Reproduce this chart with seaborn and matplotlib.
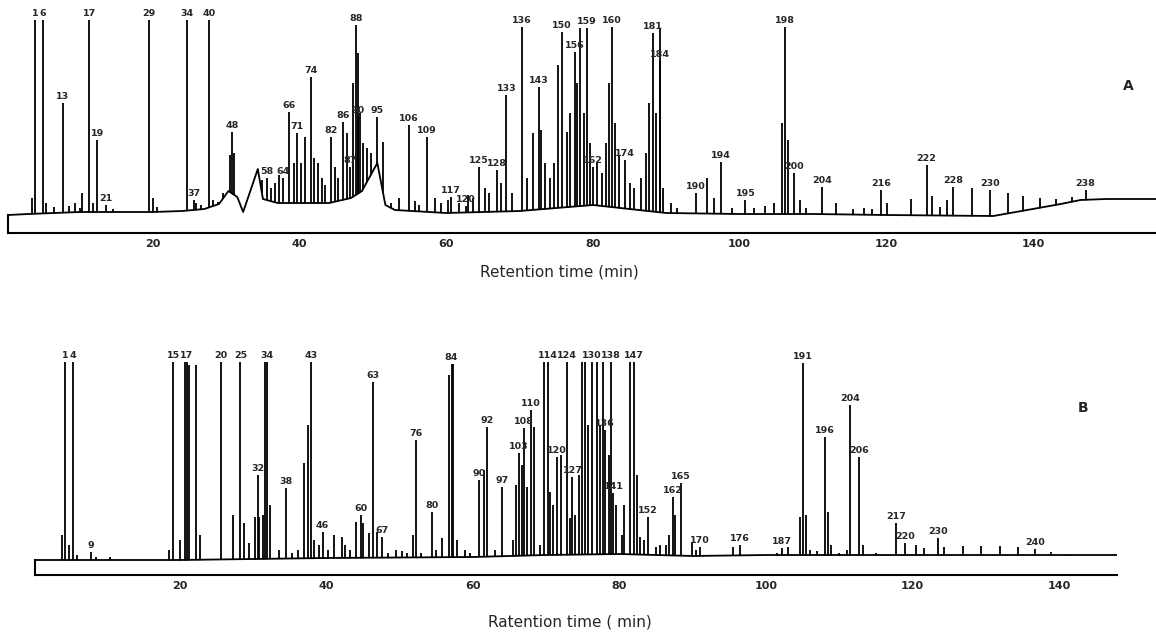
import numpy as np
import matplotlib
matplotlib.use("Agg")
import matplotlib.pyplot as plt
import seaborn as sns

# ---------------------------------------------------------------
# Chromatogram A : labelled peaks (retention time min, response)
# ---------------------------------------------------------------
A_LABELS = ["1", "6", "13", "17", "19", "21", "29", "34", "37", "40", "48",
            "58", "64", "66", "71", "74", "82", "86", "87", "88", "90", "95",
            "106", "109", "117", "120", "125", "128", "133", "136", "143",
            "150", "156", "159", "160", "162", "174", "181", "184", "190",
            "194", "195", "198", "200", "204", "216", "222", "228", "230",
            "238"]
A_TIMES = [3.9, 5.0, 7.7, 11.3, 12.4, 13.6, 19.5, 24.7, 25.6, 27.7, 30.8,
           35.6, 37.7, 38.5, 39.7, 41.6, 44.3, 45.9, 46.9, 47.7, 48.0, 50.5,
           54.9, 57.4, 60.6, 62.7, 64.4, 66.9, 68.2, 70.3, 72.6,
           75.8, 77.5, 79.2, 82.6, 80.0, 84.4, 88.2, 89.1, 94.1,
           97.5, 100.8, 106.2, 107.4, 111.2, 119.3, 125.5, 129.1, 134.2,
           147.2]
A_HEIGHTS = [213, 213, 130, 213, 93, 28, 213, 213, 33, 213, 101,
             55, 55, 121, 100, 156, 96, 111, 66, 208, 116, 116,
             108, 96, 36, 27, 66, 63, 138, 206, 146,
             201, 181, 205, 206, 66, 73, 200, 172, 40,
             71, 33, 206, 60, 46, 43, 68, 46, 43,
             43]

# unlabelled minor peaks of A
A_MINOR_T = [3.5, 5.4, 6.5, 8.5, 9.3, 10.0, 10.3, 11.8, 14.5, 20.0, 20.6,
             22.0, 25.9, 26.5, 28.2, 28.9, 29.6, 30.5, 31.1, 34.9, 36.1,
             36.6, 37.2, 39.3, 40.2, 40.7, 42.0, 42.5, 43.0, 43.5, 44.8,
             45.3, 46.4, 47.3, 47.9, 48.3, 48.6, 49.2, 49.8, 51.4, 52.5,
             53.6, 55.7, 56.3, 58.4, 59.3, 60.2, 61.8, 63.0, 63.7, 65.3,
             65.8, 67.4, 69.0, 71.0, 71.8, 72.9, 73.5, 74.2, 74.7, 75.3,
             76.5, 76.9, 77.8, 78.3, 78.8, 79.6, 80.5, 81.2, 81.8, 82.2,
             83.0, 83.6, 85.0, 85.6, 86.5, 87.3, 87.7, 88.6, 89.1, 89.6,
             90.7, 91.5, 95.6, 96.5, 99.0, 102.0, 103.5, 104.7, 105.8,
             106.6, 108.3, 109.0, 113.1, 115.5, 117.0, 118.0, 120.1, 123.4,
             126.3, 127.3, 128.3, 131.7, 136.6, 138.7, 141.0, 143.2, 145.3]
A_MINOR_H = [35, 30, 26, 27, 30, 25, 40, 30, 24, 35, 26,
             22, 30, 28, 33, 31, 40, 78, 80, 53, 45,
             50, 58, 70, 70, 96, 75, 70, 55, 48, 66,
             55, 100, 150, 180, 120, 90, 85, 80, 91, 30,
             35, 32, 28, 35, 30, 33, 30, 38, 35, 45,
             40, 50, 40, 55, 100, 103, 70, 55, 70, 168,
             101, 120, 150, 205, 120, 90, 70, 60, 90, 150,
             110, 78, 50, 45, 55, 80, 130, 120, 205, 45,
             30, 25, 55, 35, 25, 25, 27, 30, 110,
             93, 33, 25, 30, 24, 25, 24, 30, 34,
             37, 26, 33, 45, 40, 37, 35, 34, 36]

# drifting baseline of A (time, level)
A_BASE_T = [0.23, 3, 10, 20, 24, 27, 29, 30.3, 31.5, 32.3, 34.3, 35, 37, 40,
            44, 47, 48.5, 50.6, 51.7, 53, 60, 70, 75, 80, 85, 90, 100, 110,
            120, 134.6, 140, 143.8, 146.5, 150, 156.8]
A_BASE_H = [18, 19, 21, 21, 22, 24, 29, 42, 36, 21, 64, 34, 30, 30,
            30, 35, 42, 70, 28, 23, 20, 22, 25, 28, 24, 20, 19, 19,
            18, 17, 24, 29, 33, 34, 34]

# ---------------------------------------------------------------
# Chromatogram B
# ---------------------------------------------------------------
B_LABELS = ["1", "4", "9", "15", "17", "20", "25", "32", "34", "38", "43",
            "46", "60", "63", "67", "76", "80", "84", "90", "92", "97",
            "103", "108", "110", "114", "120", "124", "127", "130", "136",
            "138", "141", "147", "152", "162", "165", "170", "176", "187",
            "191", "196", "204", "206", "217", "220", "230", "240"]
B_TIMES = [4.4, 5.4, 7.9, 19.1, 21.0, 25.6, 28.3, 30.7, 31.9, 34.5, 37.9,
           39.5, 44.7, 46.4, 47.6, 52.3, 54.4, 57.1, 60.9, 62.0, 64.0,
           66.3, 67.0, 67.9, 70.3, 71.5, 72.8, 73.6, 76.2, 78.0,
           78.9, 79.2, 82.0, 83.9, 87.3, 88.4, 91.0, 96.5, 102.2,
           105.0, 108.1, 111.5, 112.7, 117.8, 119.0, 123.5, 136.7]
B_HEIGHTS = [213, 213, 23, 213, 213, 213, 213, 100, 213, 87, 213,
             43, 60, 193, 38, 135, 63, 211, 95, 148, 88,
             122, 147, 165, 213, 118, 213, 98, 213, 145,
             213, 82, 213, 58, 78, 92, 28, 30, 27,
             212, 138, 170, 118, 52, 32, 37, 26]

B_MINOR_T = [3.9, 4.9, 6.0, 8.6, 10.5, 18.6, 20.1, 20.8, 21.3, 22.3, 22.8,
             27.3, 28.8, 29.5, 30.3, 30.9, 31.4, 31.7, 32.3, 33.5, 35.3,
             36.2, 37.0, 37.5, 38.3, 39.0, 40.3, 41.1, 42.1, 42.6, 43.3,
             44.1, 45.0, 45.9, 47.0, 48.5, 49.5, 50.3, 51.0, 51.9, 53.0,
             55.0, 55.8, 56.8, 57.3, 57.9, 59.0, 59.6, 61.5, 63.0, 65.5,
             65.9, 66.7, 67.4, 68.3, 69.2, 69.7, 70.6, 71.0, 72.1, 73.3,
             74.0, 74.5, 74.9, 75.3, 75.7, 76.9, 77.3, 77.8, 78.6, 79.6,
             80.3, 80.7, 81.4, 82.4, 82.8, 83.3, 85.0, 85.6, 86.3, 86.8,
             87.6, 89.9, 90.5, 92.8, 95.5, 98.0, 101.5, 103.0, 104.6, 105.4,
             106.0, 107.0, 108.5, 108.9, 110.0, 111.0, 113.2, 115.0, 116.5,
             120.5, 121.6, 124.3, 126.9, 129.4, 131.9, 134.4, 138.9, 141.0,
             144.9]
B_MINOR_H = [40, 30, 20, 18, 18, 25, 35, 213, 210, 210, 40,
             60, 52, 32, 58, 58, 60, 213, 70, 25, 22,
             25, 112, 150, 35, 30, 25, 40, 38, 30, 25,
             53, 52, 42, 43, 22, 25, 24, 22, 40, 22,
             25, 37, 200, 211, 35, 25, 22, 105, 25, 35,
             90, 110, 88, 148, 30, 213, 83, 70, 120, 57,
             60, 100, 213, 213, 150, 213, 150, 213, 120, 70,
             40, 70, 213, 100, 38, 35, 28, 30, 30, 40,
             60, 33, 25, 18, 28, 20, 22, 28, 58, 60,
             25, 24, 63, 30, 22, 25, 30, 22, 20,
             30, 27, 28, 29, 29, 29, 28, 23, 20,
             19]

B_BASE_T = [0.27, 20, 40, 60, 70, 80, 90, 100, 120, 147.9]
B_BASE_H = [15, 15, 17, 18, 20, 21, 19, 20, 20, 20]


def dibujar_cromatograma(ax, etiquetas, tiempos, alturas, menores_t,
                         menores_h, base_t, base_h, xlim, letra, letra_pos):
    tiempos_all = list(tiempos) + list(menores_t)
    alturas_all = list(alturas) + list(menores_h)

    # picos como trazos finos que salen de la linea base
    ax.vlines(tiempos_all, 0, alturas_all, color="black", lw=1.3, zorder=2)
    ax.fill_between(base_t, 0, base_h, color="white", lw=0, zorder=3)
    sns.lineplot(x=base_t, y=base_h, ax=ax, color="black", lw=1.3,
                 zorder=4, sort=False)

    for lab, t, h in zip(etiquetas, tiempos, alturas):
        ax.annotate(lab, (t, h), xytext=(0, 1.5), textcoords="offset points",
                    ha="center", va="bottom", fontsize=6.8,
                    fontweight="bold", zorder=6)

    ax.set_xlim(*xlim)
    ax.set_ylim(0, 225)
    ax.set_xticks([20, 40, 60, 80, 100, 120, 140])
    ax.set_yticks([])
    ax.set_xlabel("")
    ax.set_ylabel("")
    ax.tick_params(axis="x", length=0, pad=4, labelsize=8)
    for lbl in ax.get_xticklabels():
        lbl.set_fontweight("bold")
    for s in ["top", "right"]:
        ax.spines[s].set_visible(False)
    ax.spines["left"].set_bounds(0, base_h[0])
    for s in ["left", "bottom"]:
        ax.spines[s].set_linewidth(1.5)
        ax.spines[s].set_zorder(5)
        ax.spines[s].set_color("black")
    ax.text(letra_pos[0], letra_pos[1], letra, transform=ax.transAxes,
            fontsize=10, fontweight="bold", ha="center", va="center")


sns.set_style("white")
plt.rcParams["font.family"] = ["DejaVu Sans"]

W, H = 1156, 637
fig = plt.figure(figsize=(W / 100, H / 100), dpi=100, facecolor="white")

axA = fig.add_axes([8 / W, (H - 233) / H, 1148 / W, 225 / H])
dibujar_cromatograma(axA, A_LABELS, A_TIMES, A_HEIGHTS, A_MINOR_T, A_MINOR_H,
                     A_BASE_T, A_BASE_H, (0.23, 156.8), "A", (0.976, 0.653))

axB = fig.add_axes([35 / W, (H - 575) / H, 1082 / W, 225 / H])
dibujar_cromatograma(axB, B_LABELS, B_TIMES, B_HEIGHTS, B_MINOR_T, B_MINOR_H,
                     B_BASE_T, B_BASE_H, (0.27, 147.9), "B", (0.969, 0.742))

fig.text(559 / W, 1 - 272 / H, "Retention time (min)", ha="center",
         va="center", fontsize=11)
fig.text(570 / W, 1 - 622 / H, "Ratention time ( min)", ha="center",
         va="center", fontsize=11)

fig.savefig("out.png", dpi=100, facecolor="white")
